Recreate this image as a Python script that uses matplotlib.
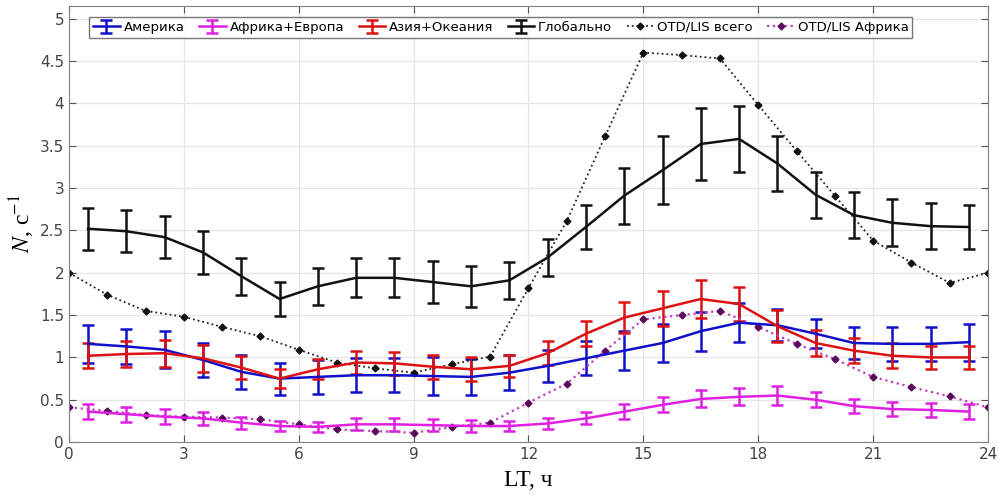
import matplotlib
matplotlib.use("Agg")
import matplotlib.pyplot as plt
import numpy as np

plt.rcParams['mathtext.fontset'] = 'stix'

# local time, half-hour bins for regions, whole hours for OTD/LIS
lt_bins = [0.5, 1.5, 2.5, 3.5, 4.5, 5.5, 6.5, 7.5, 8.5, 9.5, 10.5, 11.5,
           12.5, 13.5, 14.5, 15.5, 16.5, 17.5, 18.5, 19.5, 20.5, 21.5, 22.5, 23.5]
lt_hours = list(range(25))

america = [1.16, 1.13, 1.09, 0.97, 0.83, 0.75, 0.77, 0.79, 0.79, 0.78, 0.77, 0.82,
           0.90, 0.99, 1.08, 1.17, 1.31, 1.41, 1.38, 1.28, 1.17, 1.16, 1.16, 1.18]
america_err = [0.22, 0.21, 0.22, 0.20, 0.20, 0.19, 0.20, 0.20, 0.20, 0.22, 0.21, 0.21,
               0.19, 0.20, 0.23, 0.22, 0.23, 0.23, 0.19, 0.17, 0.19, 0.20, 0.20, 0.22]

afr_eur = [0.36, 0.33, 0.30, 0.28, 0.23, 0.19, 0.18, 0.21, 0.21, 0.20, 0.19, 0.19,
           0.22, 0.28, 0.36, 0.44, 0.51, 0.535, 0.55, 0.50, 0.425, 0.39, 0.38, 0.36]
afr_eur_err = [0.09, 0.09, 0.09, 0.08, 0.07, 0.06, 0.06, 0.07, 0.08, 0.07, 0.07, 0.06,
               0.06, 0.07, 0.09, 0.09, 0.10, 0.10, 0.11, 0.09, 0.08, 0.08, 0.08, 0.09]

asia = [1.02, 1.04, 1.05, 0.99, 0.88, 0.75, 0.86, 0.94, 0.93, 0.89, 0.86, 0.90,
        1.05, 1.28, 1.47, 1.58, 1.69, 1.63, 1.37, 1.17, 1.08, 1.02, 1.00, 1.00]
asia_err = [0.15, 0.15, 0.16, 0.16, 0.14, 0.11, 0.12, 0.14, 0.14, 0.14, 0.14, 0.13,
            0.14, 0.15, 0.18, 0.21, 0.22, 0.20, 0.19, 0.15, 0.15, 0.15, 0.14, 0.14]

global_n = [2.52, 2.49, 2.42, 2.24, 1.96, 1.69, 1.84, 1.94, 1.94, 1.89, 1.84, 1.91,
            2.18, 2.54, 2.91, 3.21, 3.52, 3.58, 3.29, 2.92, 2.68, 2.59, 2.55, 2.54]
global_err = [0.25, 0.25, 0.25, 0.25, 0.22, 0.20, 0.22, 0.23, 0.23, 0.25, 0.24, 0.22,
              0.22, 0.26, 0.33, 0.40, 0.43, 0.39, 0.32, 0.27, 0.27, 0.28, 0.27, 0.26]

otd_total = [2.00, 1.74, 1.55, 1.48, 1.36, 1.25, 1.09, 0.94, 0.87, 0.82, 0.92, 1.01,
             1.82, 2.61, 3.61, 4.60, 4.57, 4.53, 3.98, 3.44, 2.91, 2.38, 2.12, 1.88, 2.00]
otd_africa = [0.41, 0.37, 0.32, 0.30, 0.29, 0.27, 0.21, 0.15, 0.13, 0.11, 0.18, 0.23,
              0.465, 0.69, 1.08, 1.45, 1.50, 1.55, 1.36, 1.16, 0.98, 0.77, 0.65, 0.54, 0.41]

fig = plt.figure(figsize=(9.99, 4.99), dpi=100)
ax = fig.add_axes([0.069, 0.114, 0.92, 0.874])

eb = dict(capsize=4, elinewidth=1.8, capthick=1.8, lw=1.8)
h1 = ax.errorbar(lt_bins, america, yerr=america_err, color='#1010c8', label='Америка', **eb)
h2 = ax.errorbar(lt_bins, afr_eur, yerr=afr_eur_err, color='#e020e0', label='Африка+Европа', **eb)
h3 = ax.errorbar(lt_bins, asia, yerr=asia_err, color='#dd1111', label='Азия+Океания', **eb)
h4 = ax.errorbar(lt_bins, global_n, yerr=global_err, color='#111111', label='Глобально', **eb)

h5, = ax.plot(lt_hours, otd_total, ls=':', lw=1.3, color='#222222', marker='D', ms=3.5,
              mfc='#111111', mec='#111111', label='OTD/LIS всего')
h6, = ax.plot(lt_hours, otd_africa, ls=':', lw=1.6, color='#c040c0', marker='D', ms=3.5,
              mfc='#5a0a5a', mec='#5a0a5a', label='OTD/LIS Африка')

ax.set_xlim(0, 24)
ax.set_ylim(0, 5.15)
ax.set_xticks(np.arange(0, 25, 3))
ax.set_yticks(np.arange(0, 5.01, 0.5))
ax.set_yticklabels(['0', '0.5', '1', '1.5', '2', '2.5', '3', '3.5', '4', '4.5', '5'])
ax.grid(True, color='#e6e6e6', lw=0.9)
ax.set_axisbelow(True)
ax.tick_params(direction='in', top=True, right=True, labelsize=11, colors='#555555',
               labelcolor='#444444', length=5)
for s in ax.spines.values():
    s.set_color('#808080')

ax.set_xlabel('LT, ч', family='Liberation Serif', fontsize=17, labelpad=6)
ax.set_ylabel(r'$N$, c$^{-1}$', family='Liberation Serif', fontsize=17, labelpad=2)

handles = [h1, h2, h3, h4, h5, h6]
leg = ax.legend(handles, [h.get_label() for h in handles], loc='upper center', ncol=6,
                fontsize=9.5, frameon=True, fancybox=False, edgecolor='#555555',
                borderpad=0.3, handlelength=2.0, handletextpad=0.3,
                columnspacing=1.1, bbox_to_anchor=(0.47, 0.99))
leg.get_frame().set_linewidth(1.0)

fig.savefig('out.png', dpi=100)
